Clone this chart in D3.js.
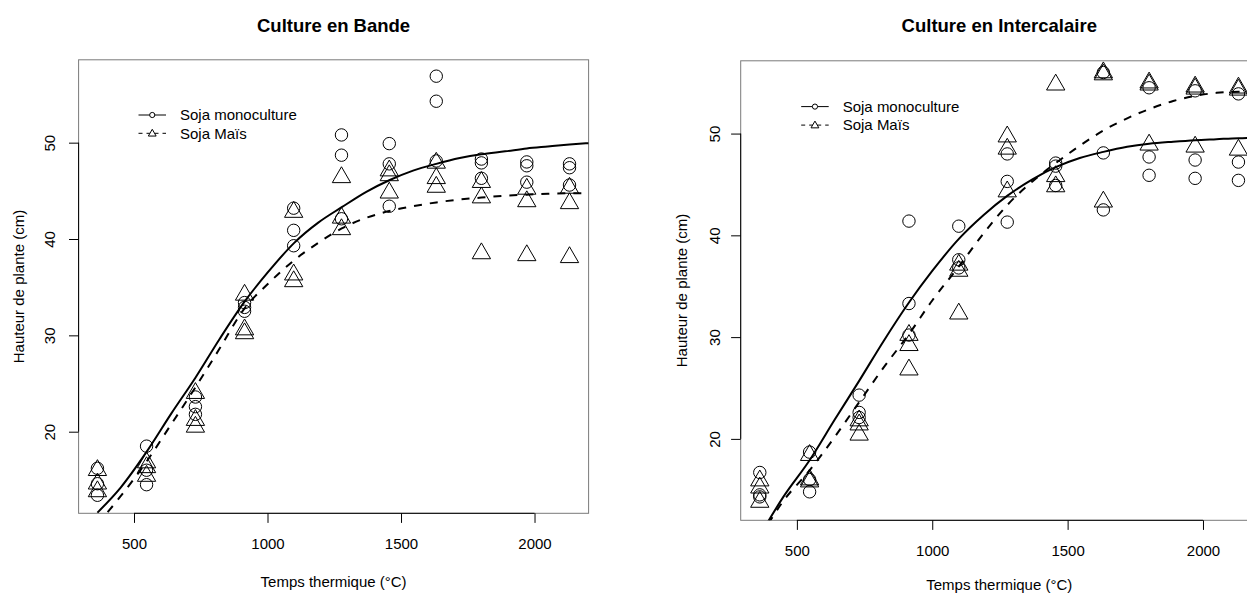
<!DOCTYPE html>
<html>
<head>
<meta charset="utf-8">
<script src="https://cdn.jsdelivr.net/npm/d3@7"></script>
<style>
html,body{margin:0;padding:0;background:#fff;}
svg{display:block;}
text{font-family:"Liberation Sans",Arial,Helvetica,sans-serif;fill:#000;}
</style>
</head>
<body>
<svg id="chart" width="1247" height="594"></svg>
<script>
// ---------------- DATA ----------------
const titles = ["Culture en Bande", "Culture en Intercalaire"];
const xAxisTitle = "Temps thermique (°C)";
const yAxisTitle = "Hauteur de plante (cm)";
const legendLabels = ["Soja monoculture", "Soja Maïs"];
const xTicks = [500, 1000, 1500, 2000];
const yTicks = [20, 30, 40, 50];

// thermal time of each sampling date
const thermalTime = [363, 547, 730, 914, 1098, 1277, 1456, 1632, 1801, 1971, 2131];

// Culture en Bande : plant heights (3 reps per date)
const bandeMono = [
  [16.2, 14.6, 13.4], [18.5, 16.0, 14.5], [23.6, 22.6, 21.8], [33.4, 32.9, 32.5],
  [43.2, 40.9, 39.3], [50.8, 48.7, 42.1], [49.9, 47.8, 43.4], [56.9, 54.3, 48.1],
  [48.3, 47.9, 46.3], [48.0, 47.6, 45.9], [47.8, 47.4, 45.6]
];
const bandeMais = [
  [16.0, 14.6, 13.8], [16.8, 16.3, 15.4], [24.0, 21.2, 20.5], [34.2, 30.6, 30.2],
  [42.8, 36.3, 35.6], [46.4, 42.2, 41.0], [47.1, 46.6, 44.8], [47.9, 46.3, 45.4],
  [45.9, 44.3, 38.5], [45.2, 43.9, 38.3], [45.3, 43.7, 38.1]
];

// Culture en Intercalaire : plant heights
const interMono = [
  [16.7, 14.5, 14.3], [18.7, 16.0, 14.8], [24.3, 22.6, 22.1], [41.4, 33.3, 30.2],
  [40.9, 37.6, 36.8], [48.0, 45.3, 41.3], [47.1, 46.8, 44.9], [56.0, 48.1, 42.5],
  [54.5, 47.7, 45.9], [54.2, 47.4, 45.6], [53.9, 47.2, 45.4]
];
const interMais = [
  [15.9, 15.2, 13.8], [18.4, 16.0, 15.8], [21.8, 21.4, 20.4], [30.2, 29.2, 26.8],
  [37.1, 36.5, 32.3], [49.7, 48.5, 44.3], [54.8, 45.8, 44.8], [56.0, 55.8, 43.3],
  [55.0, 54.8, 48.9], [54.6, 54.4, 48.7], [54.5, 54.3, 48.4]
];

// fitted curves
const fitX = [363, 450, 547, 640, 730, 820, 914, 1000, 1100, 1190, 1278, 1370, 1456, 1545, 1632, 1720, 1801, 1890, 1971, 2050, 2131, 2203];
const bandeMonoFit = [11.6, 14.2, 17.9, 21.9, 25.6, 29.6, 33.5, 36.5, 39.6, 41.7, 43.3, 44.9, 46.1, 47.1, 47.8, 48.4, 48.8, 49.1, 49.4, 49.6, 49.8, 49.95];
const bandeMaisFit = [10.4, 13.3, 16.9, 20.8, 24.6, 28.6, 32.8, 35.3, 37.8, 39.6, 41.1, 42.2, 42.9, 43.4, 43.8, 44.1, 44.3, 44.5, 44.6, 44.7, 44.75, 44.75];
const interMonoFit = [10.5, 14.3, 17.9, 21.9, 25.7, 29.6, 33.4, 36.5, 39.7, 42.0, 43.9, 45.5, 46.7, 47.6, 48.2, 48.7, 49.0, 49.2, 49.35, 49.45, 49.55, 49.6];
const interMaisFit = [10.3, 13.9, 16.9, 20.2, 23.6, 27.0, 30.3, 33.6, 37.0, 40.2, 43.0, 45.3, 47.1, 48.8, 50.3, 51.5, 52.4, 53.2, 53.7, 54.0, 54.1, 54.1];

// ---------------- LAYOUT ----------------
const panels = [
  { title: titles[0], mono: bandeMono, mais: bandeMais, monoFit: bandeMonoFit, maisFit: bandeMaisFit,
    left: 78.6, right: 588.6, top: 59.8, bottom: 513.3,
    xDomain: [292.5, 2202.5], yDomain: [11.53, 58.6],
    yTickLabelX: 50, yTitleX: 18.5, xTitleY: 587, legX: 138.5, legY: 115, legGap: 18.3 },
  { title: titles[1], mono: interMono, mais: interMais, monoFit: interMonoFit, maisFit: interMaisFit,
    left: 740.7, right: 1257.8, top: 60.8, bottom: 520.3,
    xDomain: [292.5, 2202.5], yDomain: [12.0, 57.15],
    yTickLabelX: 715, yTitleX: 682, xTitleY: 590, legX: 801.2, legY: 106.6, legGap: 18.5 }
];

const svg = d3.select("#chart");
svg.append("rect").attr("width", 1247).attr("height", 594).attr("fill", "#fff");

const FS = 15;
const R_CIRC = 6.2;
const TS = 6.8; // triangle size unit

function triPath(cx, cy, s) {
  const r = 1.5551 * s, hw = 1.3468 * s, yc = 0.7776 * s;
  return `M${cx},${cy - r}L${cx + hw},${cy + yc}L${cx - hw},${cy + yc}Z`;
}

panels.forEach((p, i) => {
  const x = d3.scaleLinear().domain(p.xDomain).range([p.left, p.right]);
  const y = d3.scaleLinear().domain(p.yDomain).range([p.bottom, p.top]);
  const g = svg.append("g");

  const clipId = "clip" + i;
  svg.append("defs").append("clipPath").attr("id", clipId)
    .append("rect").attr("x", p.left).attr("y", p.top)
    .attr("width", p.right - p.left).attr("height", p.bottom - p.top);

  // box
  g.append("rect").attr("x", p.left).attr("y", p.top)
    .attr("width", p.right - p.left).attr("height", p.bottom - p.top)
    .attr("fill", "none").attr("stroke", "#7a7a7a").attr("stroke-width", 1);

  // x axis
  const xAx = d3.axisBottom(x).tickValues(xTicks).tickSize(9.6).tickPadding(9).tickFormat(d3.format("d"));
  const gx = g.append("g").attr("transform", `translate(0,${p.bottom})`).call(xAx);
  gx.select(".domain").remove();
  gx.append("line").attr("x1", x(xTicks[0])).attr("x2", x(xTicks[xTicks.length - 1]))
    .attr("stroke", "#000");
  gx.selectAll(".tick line").attr("stroke", "#000");
  gx.selectAll(".tick text").attr("font-size", FS).attr("font-family", "Liberation Sans, Arial, sans-serif")
    .attr("fill", "#000").attr("dy", null).attr("y", 36);

  // y axis
  const yAx = d3.axisLeft(y).tickValues(yTicks).tickSize(9.6).tickFormat(d3.format("d"));
  const gy = g.append("g").attr("transform", `translate(${p.left},0)`).call(yAx);
  gy.select(".domain").remove();
  gy.append("line").attr("y1", y(yTicks[0])).attr("y2", y(yTicks[yTicks.length - 1]))
    .attr("stroke", "#000");
  gy.selectAll(".tick line").attr("stroke", "#000");
  gy.selectAll(".tick text").attr("font-size", FS).attr("font-family", "Liberation Sans, Arial, sans-serif")
    .attr("fill", "#000")
    .attr("x", null).attr("dy", null)
    .attr("text-anchor", "middle")
    .attr("transform", `translate(${p.yTickLabelX - p.left + 5.4},0) rotate(-90)`);

  // titles
  g.append("text").attr("x", (p.left + p.right) / 2).attr("y", 31.7)
    .attr("text-anchor", "middle").attr("font-weight", "bold").attr("font-size", 18.5)
    .text(p.title);
  g.append("text").attr("x", (p.left + p.right) / 2).attr("y", p.xTitleY)
    .attr("text-anchor", "middle").attr("font-size", FS).text(xAxisTitle);
  g.append("text")
    .attr("transform", `translate(${p.yTitleX + 5.4},${(p.top + p.bottom) / 2}) rotate(-90)`)
    .attr("text-anchor", "middle").attr("font-size", FS).text(yAxisTitle);

  const plot = g.append("g").attr("clip-path", `url(#${clipId})`);

  // fitted curves
  const line = d3.line().x((d, k) => x(fitX[k])).y(d => y(d)).curve(d3.curveMonotoneX);
  plot.append("path").datum(p.monoFit).attr("d", line)
    .attr("fill", "none").attr("stroke", "#000").attr("stroke-width", 2);
  plot.append("path").datum(p.maisFit).attr("d", line)
    .attr("fill", "none").attr("stroke", "#000").attr("stroke-width", 2)
    .attr("stroke-dasharray", "8,8");

  // points
  const monoPts = [], maisPts = [];
  thermalTime.forEach((t, k) => {
    p.mono[k].forEach(v => monoPts.push([t, v]));
    p.mais[k].forEach(v => maisPts.push([t, v]));
  });
  plot.selectAll("circle.mono").data(monoPts).enter().append("circle")
    .attr("class", "mono")
    .attr("cx", d => x(d[0])).attr("cy", d => y(d[1])).attr("r", R_CIRC)
    .attr("fill", "none").attr("stroke", "#000").attr("stroke-width", 1);
  plot.selectAll("path.mais").data(maisPts).enter().append("path")
    .attr("class", "mais")
    .attr("d", d => triPath(x(d[0]), y(d[1]), TS))
    .attr("fill", "none").attr("stroke", "#000").attr("stroke-width", 1);

  // legend
  const lg = g.append("g");
  const lx0 = p.legX, lx1 = p.legX + 27.5, lxm = (lx0 + lx1) / 2;
  const ly0 = p.legY, ly1 = p.legY + p.legGap;
  lg.append("line").attr("x1", lx0).attr("x2", lx1).attr("y1", ly0).attr("y2", ly0)
    .attr("stroke", "#000").attr("stroke-width", 1);
  lg.append("circle").attr("cx", lxm).attr("cy", ly0).attr("r", 2.6)
    .attr("fill", "#fff").attr("stroke", "#000").attr("stroke-width", 1);
  lg.append("line").attr("x1", lx0).attr("x2", lx1).attr("y1", ly1).attr("y2", ly1)
    .attr("stroke", "#000").attr("stroke-width", 1).attr("stroke-dasharray", "4,4");
  lg.append("path").attr("d", triPath(lxm, ly1 + 0.5, 2.9))
    .attr("fill", "#fff").attr("stroke", "#000").attr("stroke-width", 1);
  lg.append("text").attr("x", lx1 + 14).attr("y", ly0 + 5.3).attr("font-size", FS).text(legendLabels[0]);
  lg.append("text").attr("x", lx1 + 14).attr("y", ly1 + 5.3).attr("font-size", FS).text(legendLabels[1]);
});
</script>
</body>
</html>
